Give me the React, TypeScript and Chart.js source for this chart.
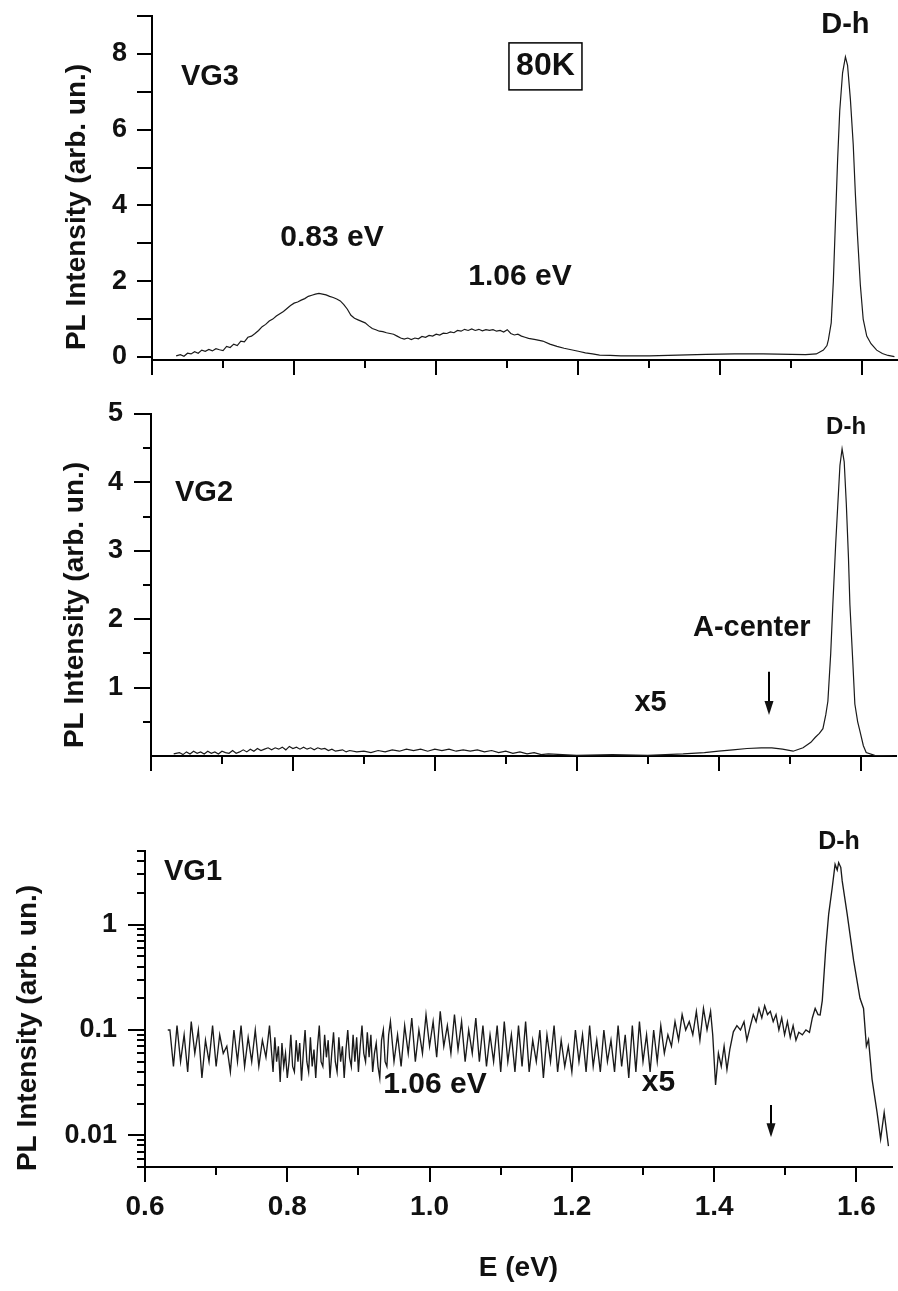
import React, { useEffect, useRef } from 'react';
import { Chart, registerables } from 'chart.js';

Chart.register(...registerables);

const FONT = "'Liberation Sans', Arial, Helvetica, sans-serif";

// ---------- x axis (shared) ----------
const xTickValues = [0.6, 0.7, 0.8, 0.9, 1.0, 1.1, 1.2, 1.3, 1.4, 1.5, 1.6];
const xMajorValues = [0.6, 0.8, 1.0, 1.2, 1.4, 1.6];
const xMajorLabels = ['0.6', '0.8', '1.0', '1.2', '1.4', '1.6'];

// ---------- VG3 (linear) ----------
const vg3YTicks = [0, 1, 2, 3, 4, 5, 6, 7, 8, 9];
const vg3YMajor = [0, 2, 4, 6, 8];
const vg3YLabels = ['0', '2', '4', '6', '8'];
const vg3Spectrum: [number, number][] = [
  [0.634, 0.03], [0.640, 0.06], [0.645, 0.02], [0.650, 0.10], [0.655, 0.08], [0.660, 0.14],
  [0.665, 0.10], [0.670, 0.18], [0.675, 0.15], [0.680, 0.20], [0.685, 0.16], [0.690, 0.22],
  [0.695, 0.19], [0.700, 0.17], [0.705, 0.28], [0.710, 0.25], [0.715, 0.34], [0.720, 0.30],
  [0.725, 0.42], [0.730, 0.40], [0.735, 0.52], [0.740, 0.55], [0.745, 0.62], [0.750, 0.70],
  [0.755, 0.80], [0.760, 0.86], [0.765, 0.95], [0.770, 1.00], [0.775, 1.08], [0.780, 1.14],
  [0.785, 1.20], [0.790, 1.28], [0.795, 1.36], [0.800, 1.42], [0.805, 1.45], [0.810, 1.50],
  [0.815, 1.54], [0.820, 1.60], [0.825, 1.63], [0.830, 1.66], [0.835, 1.68], [0.840, 1.66],
  [0.845, 1.64], [0.850, 1.60], [0.855, 1.57], [0.860, 1.53], [0.865, 1.48], [0.870, 1.38],
  [0.875, 1.26], [0.880, 1.10], [0.885, 1.02], [0.890, 0.98], [0.895, 0.94], [0.900, 0.90],
  [0.905, 0.82], [0.910, 0.75], [0.915, 0.72], [0.920, 0.68], [0.925, 0.67], [0.930, 0.64],
  [0.935, 0.62], [0.940, 0.60], [0.945, 0.55], [0.950, 0.50], [0.955, 0.47], [0.960, 0.50],
  [0.965, 0.46], [0.970, 0.50], [0.975, 0.48], [0.980, 0.54], [0.985, 0.52], [0.990, 0.57],
  [0.995, 0.55], [1.000, 0.60], [1.005, 0.58], [1.010, 0.63], [1.015, 0.62], [1.020, 0.66],
  [1.025, 0.64], [1.030, 0.70], [1.035, 0.68], [1.040, 0.73], [1.045, 0.70], [1.050, 0.74],
  [1.055, 0.70], [1.060, 0.73], [1.065, 0.69], [1.070, 0.72], [1.075, 0.70], [1.080, 0.72],
  [1.085, 0.68], [1.090, 0.70], [1.095, 0.66], [1.100, 0.72], [1.105, 0.62], [1.110, 0.58],
  [1.115, 0.60], [1.120, 0.55], [1.125, 0.52], [1.130, 0.49], [1.140, 0.46], [1.150, 0.42],
  [1.160, 0.34], [1.170, 0.28], [1.180, 0.23], [1.190, 0.19], [1.200, 0.15], [1.210, 0.11],
  [1.220, 0.08], [1.230, 0.05], [1.245, 0.04], [1.260, 0.03], [1.300, 0.03], [1.340, 0.05],
  [1.380, 0.07], [1.420, 0.08], [1.460, 0.08], [1.500, 0.07], [1.520, 0.06], [1.535, 0.08],
  [1.545, 0.18], [1.550, 0.30], [1.552, 0.45], [1.556, 0.90], [1.559, 2.00], [1.562, 3.60],
  [1.565, 5.20], [1.568, 6.50], [1.572, 7.50], [1.576, 7.92], [1.579, 7.70], [1.583, 6.80],
  [1.587, 5.60], [1.590, 4.30], [1.593, 3.20], [1.597, 1.90], [1.601, 1.00], [1.606, 0.55],
  [1.612, 0.35], [1.620, 0.18], [1.628, 0.09], [1.636, 0.04], [1.645, 0.01],
];

// ---------- VG2 (linear) ----------
const vg2YTicks = [0.5, 1, 1.5, 2, 2.5, 3, 3.5, 4, 4.5, 5];
const vg2YMajor = [1, 2, 3, 4, 5];
const vg2YLabels = ['1', '2', '3', '4', '5'];
const vg2Spectrum: [number, number][] = [
  [0.632, 0.03], [0.640, 0.05], [0.645, 0.02], [0.650, 0.06], [0.655, 0.03], [0.660, 0.07],
  [0.665, 0.04], [0.670, 0.06], [0.675, 0.03], [0.680, 0.07], [0.685, 0.04], [0.690, 0.06],
  [0.695, 0.03], [0.700, 0.07], [0.705, 0.05], [0.710, 0.04], [0.715, 0.08], [0.720, 0.04],
  [0.725, 0.06], [0.730, 0.09], [0.735, 0.06], [0.740, 0.10], [0.745, 0.07], [0.750, 0.11],
  [0.755, 0.08], [0.760, 0.10], [0.765, 0.12], [0.770, 0.09], [0.775, 0.12], [0.780, 0.10],
  [0.785, 0.13], [0.790, 0.09], [0.795, 0.14], [0.800, 0.11], [0.805, 0.13], [0.810, 0.10],
  [0.815, 0.13], [0.820, 0.10], [0.825, 0.12], [0.830, 0.09], [0.835, 0.12], [0.840, 0.10],
  [0.845, 0.11], [0.850, 0.08], [0.855, 0.10], [0.860, 0.07], [0.870, 0.09], [0.875, 0.06],
  [0.880, 0.08], [0.890, 0.06], [0.900, 0.07], [0.910, 0.05], [0.920, 0.08], [0.930, 0.06],
  [0.940, 0.09], [0.950, 0.07], [0.960, 0.10], [0.970, 0.08], [0.980, 0.10], [0.990, 0.07],
  [1.000, 0.10], [1.010, 0.08], [1.020, 0.10], [1.030, 0.07], [1.040, 0.09], [1.050, 0.07],
  [1.060, 0.09], [1.070, 0.06], [1.080, 0.08], [1.090, 0.05], [1.100, 0.07], [1.110, 0.04],
  [1.120, 0.06], [1.130, 0.03], [1.140, 0.05], [1.150, 0.02], [1.160, 0.03], [1.200, 0.01],
  [1.250, 0.02], [1.300, 0.01], [1.350, 0.03], [1.380, 0.05], [1.400, 0.07], [1.420, 0.09],
  [1.440, 0.11], [1.460, 0.12], [1.475, 0.12], [1.490, 0.10], [1.505, 0.07], [1.519, 0.12],
  [1.530, 0.20], [1.536, 0.27], [1.542, 0.33], [1.547, 0.40], [1.551, 0.60], [1.554, 0.80],
  [1.558, 1.50], [1.561, 2.22], [1.565, 3.10], [1.568, 3.68], [1.571, 4.25], [1.574, 4.49],
  [1.577, 4.30], [1.580, 3.68], [1.583, 2.90], [1.585, 2.22], [1.589, 1.40], [1.592, 0.76],
  [1.596, 0.50], [1.599, 0.37], [1.604, 0.15], [1.608, 0.05], [1.620, 0.01], [1.645, 0.00],
];

// ---------- VG1 (log) ----------
const vg1YTicks = [
  0.005, 0.006, 0.007, 0.008, 0.009,
  0.01, 0.02, 0.03, 0.04, 0.05, 0.06, 0.07, 0.08, 0.09,
  0.1, 0.2, 0.3, 0.4, 0.5, 0.6, 0.7, 0.8, 0.9,
  1, 2, 3, 4, 5,
];
const vg1YMajor = [0.01, 0.1, 1];
const vg1YLabels = ['0.01', '0.1', '1'];
const vg1Spectrum: [number, number][] = [
  [0.632, 0.10], [0.635, 0.10], [0.640, 0.045], [0.645, 0.11], [0.650, 0.05], [0.655, 0.09],
  [0.660, 0.04], [0.665, 0.12], [0.670, 0.06], [0.675, 0.10], [0.680, 0.035], [0.685, 0.08],
  [0.690, 0.05], [0.695, 0.11], [0.700, 0.045], [0.705, 0.09], [0.710, 0.06], [0.715, 0.07],
  [0.720, 0.04], [0.725, 0.10], [0.730, 0.05], [0.735, 0.11], [0.740, 0.045], [0.745, 0.085],
  [0.750, 0.05], [0.755, 0.10], [0.760, 0.045], [0.765, 0.08], [0.770, 0.055], [0.775, 0.11],
  [0.780, 0.04], [0.7825, 0.085], [0.785, 0.05], [0.7875, 0.07], [0.790, 0.032], [0.7925, 0.075],
  [0.795, 0.045], [0.7975, 0.06], [0.800, 0.035], [0.8025, 0.05], [0.805, 0.09], [0.8075, 0.045],
  [0.810, 0.04], [0.8125, 0.08], [0.815, 0.05], [0.8175, 0.075], [0.820, 0.033], [0.8225, 0.06],
  [0.825, 0.10], [0.8275, 0.05], [0.830, 0.04], [0.8325, 0.085], [0.835, 0.045], [0.8375, 0.065],
  [0.840, 0.035], [0.8425, 0.07], [0.845, 0.11], [0.8475, 0.05], [0.850, 0.045], [0.8525, 0.09],
  [0.855, 0.055], [0.8575, 0.08], [0.860, 0.035], [0.8625, 0.06], [0.865, 0.095], [0.8675, 0.05],
  [0.870, 0.04], [0.8725, 0.085], [0.875, 0.05], [0.8775, 0.07], [0.880, 0.035], [0.8825, 0.065],
  [0.885, 0.10], [0.8875, 0.055], [0.890, 0.045], [0.8925, 0.09], [0.895, 0.05], [0.8975, 0.085],
  [0.900, 0.04], [0.9025, 0.07], [0.905, 0.11], [0.9075, 0.06], [0.910, 0.05], [0.9125, 0.095],
  [0.915, 0.055], [0.9175, 0.09], [0.920, 0.04], [0.9225, 0.06], [0.925, 0.075], [0.9275, 0.045],
  [0.930, 0.035], [0.9325, 0.08], [0.935, 0.10], [0.9375, 0.05], [0.940, 0.045], [0.9425, 0.09],
  [0.945, 0.12], [0.950, 0.05], [0.955, 0.09],
  [0.960, 0.045], [0.965, 0.11], [0.970, 0.06], [0.975, 0.13], [0.980, 0.05], [0.985, 0.10],
  [0.990, 0.06], [0.995, 0.14], [1.000, 0.07], [1.005, 0.12], [1.010, 0.055], [1.015, 0.15],
  [1.020, 0.07], [1.025, 0.11], [1.030, 0.06], [1.035, 0.14], [1.040, 0.065], [1.045, 0.12],
  [1.050, 0.05], [1.055, 0.10], [1.060, 0.06], [1.065, 0.13], [1.070, 0.05], [1.075, 0.11],
  [1.080, 0.045], [1.085, 0.09], [1.090, 0.05], [1.095, 0.11], [1.100, 0.04], [1.105, 0.12],
  [1.110, 0.05], [1.115, 0.09], [1.120, 0.04], [1.125, 0.11], [1.130, 0.045], [1.135, 0.12],
  [1.140, 0.04], [1.145, 0.08], [1.150, 0.05], [1.155, 0.10], [1.160, 0.035], [1.165, 0.09],
  [1.170, 0.05], [1.175, 0.11], [1.180, 0.04], [1.185, 0.08], [1.190, 0.045], [1.195, 0.07],
  [1.200, 0.04], [1.205, 0.10], [1.210, 0.05], [1.215, 0.09], [1.220, 0.04], [1.225, 0.11],
  [1.230, 0.045], [1.235, 0.08], [1.240, 0.04], [1.245, 0.10], [1.250, 0.05], [1.255, 0.08],
  [1.260, 0.04], [1.265, 0.11], [1.270, 0.045], [1.275, 0.09], [1.280, 0.035], [1.285, 0.11],
  [1.290, 0.04], [1.295, 0.12], [1.300, 0.05], [1.305, 0.09], [1.310, 0.04], [1.315, 0.10],
  [1.320, 0.05], [1.325, 0.11], [1.330, 0.06], [1.335, 0.09], [1.340, 0.07], [1.345, 0.12],
  [1.350, 0.08], [1.355, 0.14], [1.360, 0.10], [1.365, 0.12], [1.370, 0.09], [1.375, 0.15],
  [1.380, 0.08], [1.385, 0.16], [1.390, 0.10], [1.395, 0.15], [1.398, 0.09], [1.402, 0.030],
  [1.406, 0.06], [1.410, 0.045], [1.414, 0.07], [1.418, 0.042], [1.422, 0.065], [1.427, 0.096],
  [1.432, 0.11], [1.437, 0.10], [1.442, 0.12], [1.446, 0.08], [1.451, 0.11], [1.455, 0.14],
  [1.459, 0.12], [1.463, 0.16], [1.467, 0.13], [1.471, 0.17], [1.475, 0.14], [1.479, 0.15],
  [1.483, 0.12], [1.487, 0.14], [1.491, 0.10], [1.495, 0.13], [1.499, 0.09], [1.503, 0.12],
  [1.507, 0.085], [1.511, 0.11], [1.515, 0.08], [1.519, 0.095], [1.524, 0.09], [1.529, 0.10],
  [1.534, 0.095], [1.538, 0.13], [1.542, 0.16], [1.546, 0.14], [1.549, 0.139], [1.552, 0.19],
  [1.557, 0.61], [1.561, 1.26], [1.566, 2.25], [1.570, 3.73], [1.573, 3.30], [1.575, 3.87],
  [1.578, 3.50], [1.580, 2.60], [1.587, 1.26], [1.596, 0.46], [1.605, 0.20], [1.610, 0.16],
  [1.614, 0.070], [1.617, 0.081], [1.622, 0.034], [1.629, 0.0165], [1.634, 0.0092],
  [1.639, 0.0165], [1.645, 0.0079],
];

const Y_TITLE = 'PL Intensity (arb. un.)';

type Txt = { text: string; x: number; y: number; size: number; box?: boolean };
type Arrow = { x: number; y1: number; y2: number };

const decorPlugin = {
  id: 'decor',
  afterDraw(chart: any, _args: any, o: any) {
    const ctx: CanvasRenderingContext2D = chart.ctx;
    const xs = chart.scales.x;
    const ys = chart.scales.y;
    const { left, bottom } = chart.chartArea;
    ctx.save();
    ctx.strokeStyle = '#000';
    ctx.lineWidth = 2;
    for (const v of o.xTicks as number[]) {
      const px = Math.round(xs.getPixelForValue(v));
      const major = (o.xMajor as number[]).some((m) => Math.abs(m - v) < 1e-9);
      const len = major ? o.xMajorLen : o.xMinorLen;
      ctx.beginPath();
      ctx.moveTo(px, bottom);
      ctx.lineTo(px, bottom + len);
      ctx.stroke();
    }
    for (const v of o.yTicks as number[]) {
      const py = Math.round(ys.getPixelForValue(v));
      const major = (o.yMajor as number[]).some((m) => Math.abs(m - v) < 1e-9);
      const len = major ? o.yMajorLen : o.yMinorLen;
      ctx.beginPath();
      ctx.moveTo(left, py);
      ctx.lineTo(left - len, py);
      ctx.stroke();
    }
    ctx.fillStyle = '#111';
    ctx.textAlign = 'center';
    ctx.textBaseline = 'middle';
    for (const t of o.texts as Txt[]) {
      const px = xs.getPixelForValue(t.x);
      const py = ys.getPixelForValue(t.y);
      ctx.font = `bold ${t.size}px ${FONT}`;
      ctx.fillText(t.text, px, py);
      if (t.box) {
        ctx.lineWidth = 1.5;
        ctx.strokeRect(px - 36.5, py - 23.5, 73, 47);
        ctx.lineWidth = 2;
      }
    }
    for (const a of o.arrows as Arrow[]) {
      const px = Math.round(xs.getPixelForValue(a.x));
      const p1 = ys.getPixelForValue(a.y1);
      const p2 = ys.getPixelForValue(a.y2);
      ctx.lineWidth = 2;
      ctx.beginPath();
      ctx.moveTo(px, p1);
      ctx.lineTo(px, p2 - 10);
      ctx.stroke();
      ctx.beginPath();
      ctx.moveTo(px - 4.5, p2 - 14);
      ctx.lineTo(px + 4.5, p2 - 14);
      ctx.lineTo(px, p2);
      ctx.closePath();
      ctx.fill();
    }
    ctx.font = `bold 28px ${FONT}`;
    ctx.translate(o.yTitle.x, o.yTitle.y);
    ctx.rotate(-Math.PI / 2);
    ctx.fillText(Y_TITLE, 0, 0);
    ctx.restore();
  },
};

type PanelSpec = {
  data: [number, number][];
  lineWidth: number;
  yType: 'linear' | 'logarithmic';
  yMin: number;
  yMax: number;
  yTicks: number[];
  yMajor: number[];
  yLabels: string[];
  yLabelPad: number;
  yAxisWidth: number;
  yMajorLen: number;
  yMinorLen: number;
  padTop: number;
  padRight: number;
  xAxisHeight: number;
  showX: boolean;
  texts: Txt[];
  arrows: Arrow[];
  yTitle: { x: number; y: number };
};

function zeroPad(s: any) {
  s.paddingTop = 0;
  s.paddingBottom = 0;
  s.paddingLeft = 0;
  s.paddingRight = 0;
}

function makeConfig(p: PanelSpec): any {
  const tickFont = { family: FONT, size: 27, weight: 'bold' as const };
  return {
    type: 'line',
    data: {
      datasets: [
        {
          data: p.data.map(([x, y]) => ({ x, y })),
          borderColor: '#1a1a1a',
          borderWidth: p.lineWidth,
          pointRadius: 0,
          tension: 0,
          fill: false,
        },
      ],
    },
    options: {
      animation: false,
      responsive: false,
      maintainAspectRatio: false,
      events: [],
      layout: { padding: { top: p.padTop, right: p.padRight, left: 0, bottom: 0 } },
      plugins: {
        legend: { display: false },
        tooltip: { enabled: false },
        decor: {
          xTicks: xTickValues,
          xMajor: xMajorValues,
          xMajorLen: 15,
          xMinorLen: 8,
          yTicks: p.yTicks,
          yMajor: p.yMajor,
          yMajorLen: p.yMajorLen,
          yMinorLen: p.yMinorLen,
          texts: p.texts,
          arrows: p.arrows,
          yTitle: p.yTitle,
        },
      },
      scales: {
        x: {
          type: 'linear',
          position: 'bottom',
          min: 0.6,
          max: 1.65,
          grid: { display: false, drawTicks: false },
          border: { display: true, color: '#000', width: 2 },
          ticks: {
            display: p.showX,
            autoSkip: false,
            maxRotation: 0,
            padding: 23,
            color: '#111',
            font: { family: FONT, size: 28, weight: 'bold' },
            callback: (v: number) => {
              const i = xMajorValues.findIndex((m) => Math.abs(m - v) < 1e-9);
              return i >= 0 ? xMajorLabels[i] : '';
            },
          },
          title: {
            display: p.showX,
            text: 'E (eV)',
            color: '#111',
            font: { family: FONT, size: 28, weight: 'bold' },
            padding: { top: 0, bottom: 6 },
          },
          afterBuildTicks: (s: any) => {
            s.ticks = xTickValues.map((v) => ({ value: v }));
          },
          afterFit: (s: any) => {
            s.height = p.xAxisHeight;
            zeroPad(s);
          },
        },
        y: {
          type: p.yType,
          position: 'left',
          min: p.yMin,
          max: p.yMax,
          grid: { display: false, drawTicks: false },
          border: { display: true, color: '#000', width: 2 },
          ticks: {
            autoSkip: false,
            padding: p.yLabelPad,
            color: '#111',
            font: tickFont,
            callback: (v: number) => {
              const i = p.yMajor.findIndex((m) => Math.abs(m - v) < 1e-9 * Math.max(1, m));
              return i >= 0 ? p.yLabels[i] : '';
            },
          },
          afterBuildTicks: (s: any) => {
            s.ticks = p.yTicks.map((v) => ({ value: v }));
          },
          afterFit: (s: any) => {
            s.width = p.yAxisWidth;
            zeroPad(s);
          },
        },
      },
    },
    plugins: [decorPlugin],
  };
}

const panelVG3: PanelSpec = {
  data: vg3Spectrum,
  lineWidth: 1.2,
  yType: 'linear',
  yMin: -0.08,
  yMax: 9,
  yTicks: vg3YTicks,
  yMajor: vg3YMajor,
  yLabels: vg3YLabels,
  yLabelPad: 25,
  yAxisWidth: 152,
  yMajorLen: 15,
  yMinorLen: 15,
  padTop: 16,
  padRight: 0,
  xAxisHeight: 20,
  showX: false,
  texts: [
    { text: 'VG3', x: 0.6816, y: 7.39, size: 29 },
    { text: '0.83 eV', x: 0.8533, y: 3.15, size: 30 },
    { text: '1.06 eV', x: 1.118, y: 2.11, size: 30 },
    { text: '80K', x: 1.1538, y: 7.67, size: 32, box: true },
    { text: 'D-h', x: 1.576, y: 8.76, size: 29 },
  ],
  arrows: [],
  yTitle: { x: 77, y: 207 },
};

const panelVG2: PanelSpec = {
  data: vg2Spectrum,
  lineWidth: 1.2,
  yType: 'linear',
  yMin: 0,
  yMax: 5,
  yTicks: vg2YTicks,
  yMajor: vg2YMajor,
  yLabels: vg2YLabels,
  yLabelPad: 28,
  yAxisWidth: 151,
  yMajorLen: 17,
  yMinorLen: 8,
  padTop: 34,
  padRight: 2,
  xAxisHeight: 20,
  showX: false,
  texts: [
    { text: 'VG2', x: 0.6747, y: 3.845, size: 29 },
    { text: 'D-h', x: 1.5796, y: 4.8, size: 24 },
    { text: 'A-center', x: 1.4467, y: 1.87, size: 29 },
    { text: 'x5', x: 1.304, y: 0.77, size: 29 },
  ],
  arrows: [{ x: 1.471, y1: 1.23, y2: 0.6 }],
  yTitle: { x: 75.5, y: 225 },
};

const panelVG1: PanelSpec = {
  data: vg1Spectrum,
  lineWidth: 1.35,
  yType: 'logarithmic',
  yMin: 0.005,
  yMax: 5,
  yTicks: vg1YTicks,
  yMajor: vg1YMajor,
  yLabels: vg1YLabels,
  yLabelPad: 28,
  yAxisWidth: 145,
  yMajorLen: 17,
  yMinorLen: 8,
  padTop: 75,
  padRight: 6,
  xAxisHeight: 124,
  showX: true,
  texts: [
    { text: 'VG1', x: 0.6675, y: 3.16, size: 29 },
    { text: '1.06 eV', x: 1.0076, y: 0.03, size: 30 },
    { text: 'x5', x: 1.3218, y: 0.0317, size: 30 },
    { text: 'D-h', x: 1.5755, y: 6.09, size: 25 },
  ],
  arrows: [{ x: 1.48, y1: 0.0194, y2: 0.0096 }],
  yTitle: { x: 28.5, y: 252 },
};

export default function App() {
  const r1 = useRef<HTMLCanvasElement>(null);
  const r2 = useRef<HTMLCanvasElement>(null);
  const r3 = useRef<HTMLCanvasElement>(null);

  useEffect(() => {
    const charts = [
      new Chart(r1.current as HTMLCanvasElement, makeConfig(panelVG3)),
      new Chart(r2.current as HTMLCanvasElement, makeConfig(panelVG2)),
      new Chart(r3.current as HTMLCanvasElement, makeConfig(panelVG1)),
    ];
    return () => charts.forEach((c) => c.destroy());
  }, []);

  const cs = (top: number, h: number): React.CSSProperties => ({
    position: 'absolute',
    left: 0,
    top,
    width: 898,
    height: h,
  });

  return (
    <div style={{ position: 'absolute', left: 0, top: 0, width: 898, height: 1291, background: '#fff' }}>
      <canvas ref={r1} width={898} height={380} style={cs(0, 380)} />
      <canvas ref={r2} width={898} height={396} style={cs(380, 396)} />
      <canvas ref={r3} width={898} height={515} style={cs(776, 515)} />
    </div>
  );
}
